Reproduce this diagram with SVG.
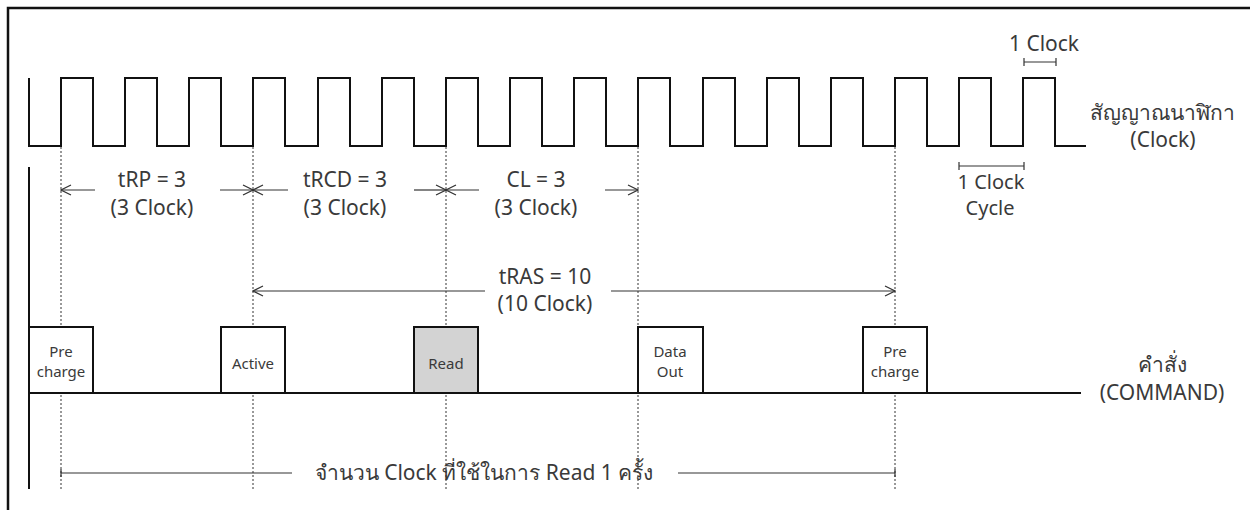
<svg xmlns="http://www.w3.org/2000/svg" width="1250" height="510" viewBox="0 0 1250 510">
<style>
.t{font-family:"Noto Sans","DejaVu Sans",sans-serif;font-size:21px;fill:#3a3a3a;text-anchor:middle}
.s{font-family:"Noto Sans","DejaVu Sans",sans-serif;font-size:20px;fill:#3a3a3a;text-anchor:middle}
.b{font-family:"Noto Sans","DejaVu Sans",sans-serif;font-size:15px;fill:#3a3a3a;text-anchor:middle}
.sig{fill:none;stroke:#111;stroke-width:2}
.dot{stroke:#333;stroke-width:1;stroke-dasharray:2 2}
.arr{stroke:#333;stroke-width:1.2;fill:none}
.box{fill:#fff;stroke:#111;stroke-width:2}
</style>
<defs>
<marker id="ah" viewBox="0 0 12 12" refX="11" refY="6" markerWidth="12" markerHeight="12" markerUnits="userSpaceOnUse" orient="auto-start-reverse">
<path d="M1,1 L11,6 L1,11" fill="none" stroke="#333" stroke-width="1.2"/>
</marker>
</defs>
<rect width="1250" height="510" fill="#fff"/>
<path d="M8,510 V8 H1250" fill="none" stroke="#111" stroke-width="2.5"/>
<g id="clock">
<path class="sig" d="M29,78 V146 H61 V78 H93 V146 H125 V78 H157 V146 H189 V78 H221 V146 H253 V78 H285 V146 H318 V78 H350 V146 H382 V78 H414 V146 H446 V78 H478 V146 H510 V78 H542 V146 H574 V78 H606 V146 H638 V78 H670 V146 H703 V78 H735 V146 H767 V78 H799 V146 H831 V78 H863 V146 H895 V78 H927 V146 H959 V78 H991 V146 H1023 V78 H1055 V146 H1086"/>
<text class="t" x="1162" y="120">สัญญาณนาฬิกา</text>
<text class="t" x="1163" y="147">(Clock)</text>
</g>
<g id="guides">
<line class="dot" x1="61" y1="147" x2="61" y2="489"/>
<line class="dot" x1="253" y1="147" x2="253" y2="489"/>
<line class="dot" x1="446" y1="147" x2="446" y2="489"/>
<line class="dot" x1="638" y1="147" x2="638" y2="489"/>
<line class="dot" x1="895" y1="147" x2="895" y2="489"/>
</g>
<g id="command">
<line class="sig" x1="29" y1="167" x2="29" y2="489"/>
<line class="sig" x1="29" y1="393" x2="1081" y2="393"/>
<text class="t" x="1162" y="372">คำสั่ง</text>
<text class="t" x="1162" y="400">(COMMAND)</text>
</g>
<g id="precharge1"><rect class="box" x="29" y="327" width="64" height="66"/><text class="b" x="61" y="357">Pre</text><text class="b" x="61" y="377">charge</text></g>
<g id="active"><rect class="box" x="221" y="327" width="64" height="66"/><text class="b" x="253" y="369">Active</text></g>
<g id="read"><rect class="box" x="414" y="327" width="64" height="66" style="fill:#d3d3d3"/><text class="b" x="446" y="369">Read</text></g>
<g id="dataout"><rect class="box" x="638" y="327" width="65" height="66"/><text class="b" x="670" y="357">Data</text><text class="b" x="670" y="377">Out</text></g>
<g id="precharge2"><rect class="box" x="863" y="327" width="64" height="66"/><text class="b" x="895" y="357">Pre</text><text class="b" x="895" y="377">charge</text></g>
<g id="connectors">
<line class="arr" x1="61" y1="190" x2="95" y2="190" marker-start="url(#ah)"/>
<line class="arr" x1="220" y1="190" x2="253" y2="190" marker-end="url(#ah)"/>
<line class="arr" x1="253" y1="190" x2="288" y2="190" marker-start="url(#ah)"/>
<line class="arr" x1="414" y1="190" x2="446" y2="190" marker-end="url(#ah)"/>
<line class="arr" x1="446" y1="190" x2="479" y2="190" marker-start="url(#ah)"/>
<line class="arr" x1="605" y1="190" x2="638" y2="190" marker-end="url(#ah)"/>
<line class="arr" x1="253" y1="291" x2="485" y2="291" marker-start="url(#ah)"/>
<line class="arr" x1="611" y1="291" x2="895" y2="291" marker-end="url(#ah)"/>
<path class="arr" d="M61,473 H292 M678,473 H895 M61,469 V477 M895,469 V477"/>
<path class="arr" d="M1024,62 H1056 M1024,58 V66 M1056,58 V66"/>
<path class="arr" d="M959,166 H1024 M959,162 V170 M1024,162 V170"/>
</g>
<g id="labels">
<text class="t" x="152" y="187">tRP = 3</text>
<text class="t" x="152" y="215">(3 Clock)</text>
<text class="t" x="345" y="187">tRCD = 3</text>
<text class="t" x="345" y="215">(3 Clock)</text>
<text class="t" x="536" y="187">CL = 3</text>
<text class="t" x="536" y="215">(3 Clock)</text>
<text class="t" x="545" y="284">tRAS = 10</text>
<text class="t" x="545" y="311">(10 Clock)</text>
<text class="t" x="1044" y="51">1 Clock</text>
<text class="s" x="991" y="189">1 Clock</text>
<text class="s" x="990" y="215">Cycle</text>
<text class="t" x="484" y="480">จำนวน Clock ที่ใช้ในการ Read 1 ครั้ง</text>
</g>
</svg>
